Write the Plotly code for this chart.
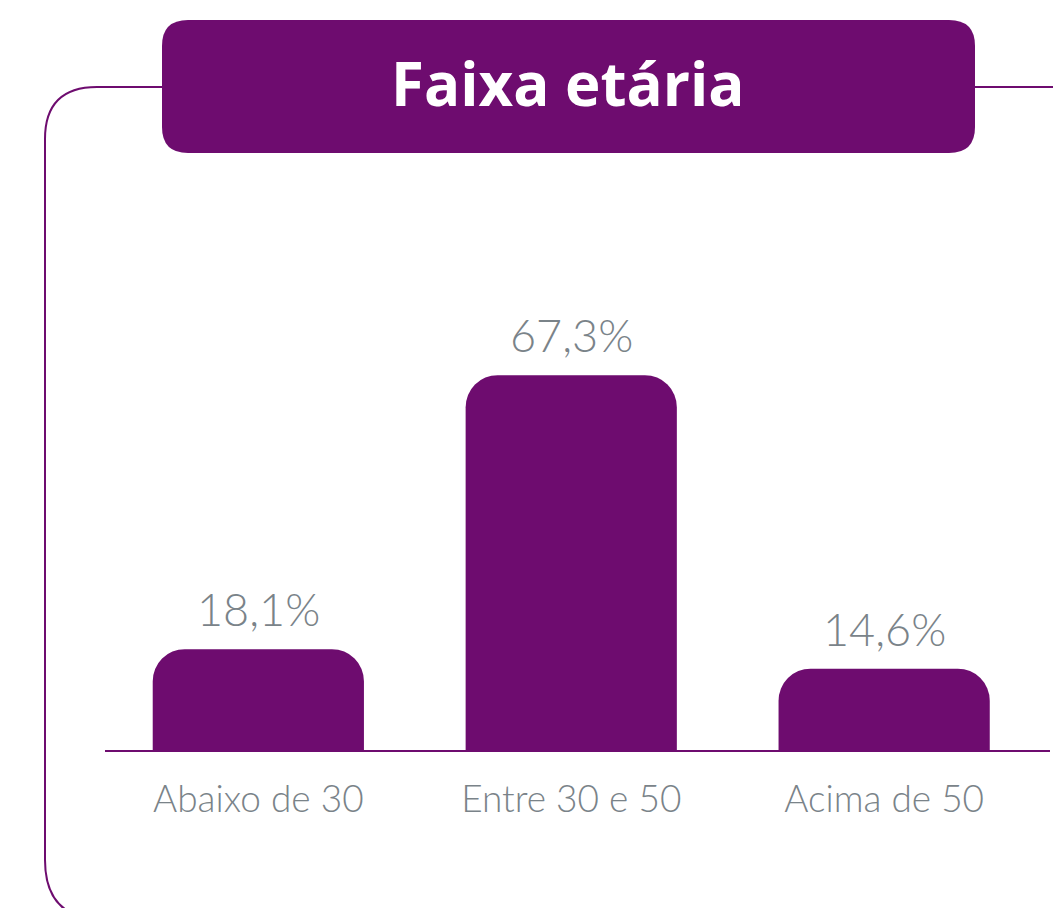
import plotly.graph_objects as go

categories = ["Abaixo de 30", "Entre 30 e 50", "Acima de 50"]
values = [18.1, 67.3, 14.6]
value_labels = [f"{v:.1f}".replace(".", ",") + "%" for v in values]
title_text = "Faixa etária"

PURPLE = "#6E0C6F"
GRAY = "#7A8389"
W, H = 1061, 908
OFF = 8  # page body margin offset
L, R, T, B = 105 - OFF, 1061 - (1050 - OFF), 193 - OFF, 908 - (750 - OFF)
PW, PH = W - L - R, H - T - B


def px(x):
    return (x - OFF - L) / PW


def py(y):
    return (H - B - (y - OFF)) / PH


def rounded_path(x0, y0, x1, y1, r):
    pts = [
        f"M {px(x0 + r)} {py(y0)}",
        f"L {px(x1 - r)} {py(y0)}",
        f"Q {px(x1)} {py(y0)} {px(x1)} {py(y0 + r)}",
        f"L {px(x1)} {py(y1 - r)}",
        f"Q {px(x1)} {py(y1)} {px(x1 - r)} {py(y1)}",
        f"L {px(x0 + r)} {py(y1)}",
        f"Q {px(x0)} {py(y1)} {px(x0)} {py(y1 - r)}",
        f"L {px(x0)} {py(y0 + r)}",
        f"Q {px(x0)} {py(y0)} {px(x0 + r)} {py(y0)}",
        "Z",
    ]
    return " ".join(pts)


fig = go.Figure(
    go.Bar(
        x=categories,
        y=values,
        width=0.675,
        marker=dict(color=PURPLE, line=dict(width=0), cornerradius=32),
        hoverinfo="skip",
    )
)

frame = " ".join([
    f"M {px(162)} {py(87)}",
    f"L {px(97)} {py(87)}",
    f"Q {px(45)} {py(87)} {px(45)} {py(139)}",
    f"L {px(45)} {py(860)}",
    f"Q {px(45)} {py(920)} {px(105)} {py(920)}",
    f"L {px(1040)} {py(920)}",
    f"Q {px(1100)} {py(920)} {px(1100)} {py(860)}",
    f"L {px(1100)} {py(137)}",
    f"Q {px(1100)} {py(87)} {px(1050)} {py(87)}",
    f"L {px(975)} {py(87)}",
])

shapes = [
    dict(type="path", xref="paper", yref="paper", path=frame,
         line=dict(color=PURPLE, width=2), layer="below"),
    dict(type="path", xref="paper", yref="paper", path=rounded_path(162, 20, 975, 153, 26),
         fillcolor=PURPLE, line=dict(width=0), layer="above"),
]

annotations = [
    dict(xref="paper", yref="paper", x=px(568), y=py(83), text=title_text,
         showarrow=False, xanchor="center", yanchor="middle",
         font=dict(family="Open Sans", size=60, color="white", weight=700)),
]
for c, v, lab in zip(categories, values, value_labels):
    annotations.append(dict(x=c, y=v, text=lab, showarrow=False, xanchor="center",
                            yanchor="bottom", yshift=11,
                            font=dict(family="Lato", size=45, color=GRAY, weight=300)))

fig.update_layout(
    width=W, height=H,
    margin=dict(l=L, r=R, t=T, b=B, pad=0),
    paper_bgcolor="white", plot_bgcolor="white",
    showlegend=False,
    shapes=shapes,
    annotations=annotations,
    xaxis=dict(range=[-0.49, 2.53], showline=True, linecolor=PURPLE, linewidth=2,
               showgrid=False, zeroline=False, ticks="", ticklabelstandoff=16,
               tickfont=dict(family="Lato", size=37, color=GRAY, weight=300),
               fixedrange=True),
    yaxis=dict(range=[0, 100], visible=False, showgrid=False, zeroline=False, fixedrange=True),
)

fig.write_html("out.html")
